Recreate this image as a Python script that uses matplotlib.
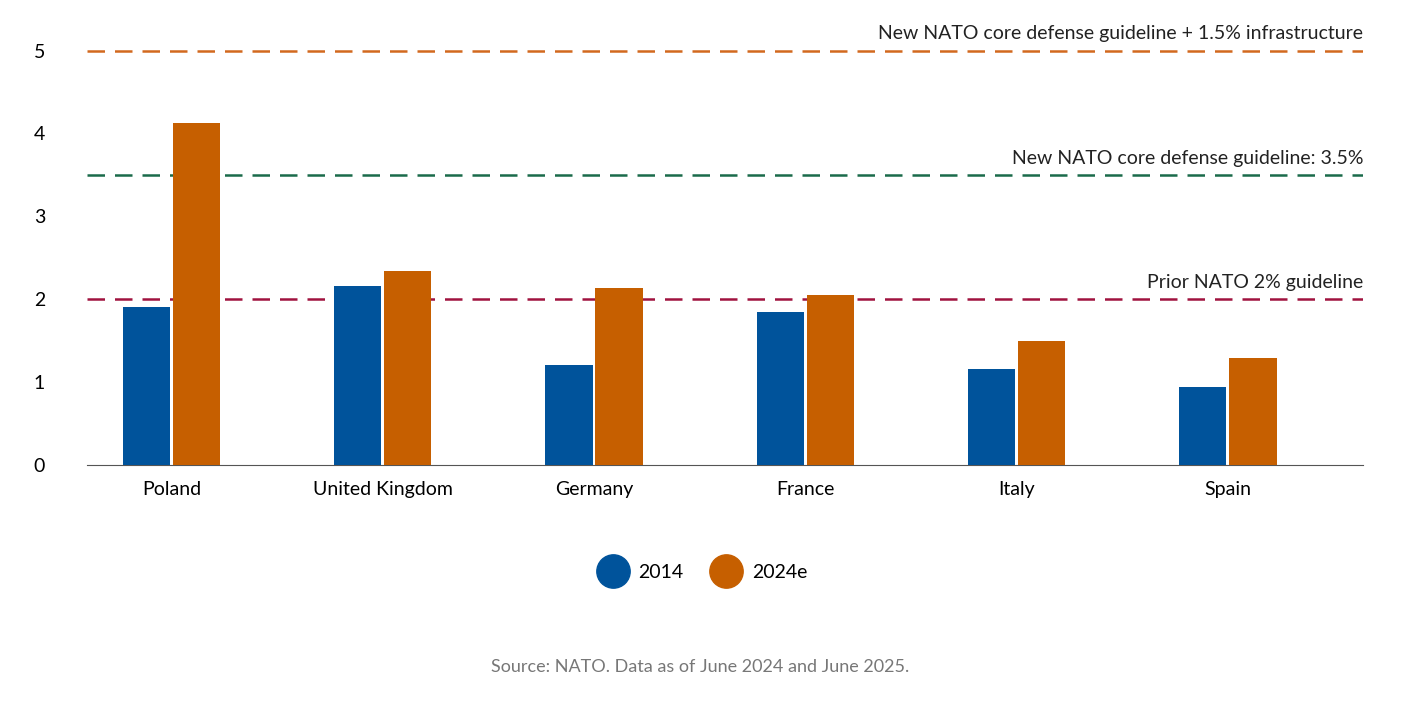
import matplotlib.pyplot as plt
import numpy as np

countries = ['Poland', 'United Kingdom', 'Germany', 'France', 'Italy', 'Spain']
vals_2014 = [1.90, 2.16, 1.20, 1.84, 1.16, 0.94]
vals_2024 = [4.12, 2.34, 2.13, 2.05, 1.49, 1.29]
guides = [2.0, 3.5, 5.0]
guide_labels = ['Prior NATO 2% guideline', 'New NATO core defense guideline: 3.5%',
                'New NATO core defense guideline + 1.5% infrastructure']

blue = '#00539B'
orange = '#C65F00'
guide_colors = ['#A0123F', '#1A6B4A', '#D2691E']

plt.rcParams['font.family'] = ['Lato', 'DejaVu Sans']
fig = plt.figure(figsize=(14.01, 7.16), dpi=100)
ax = fig.add_axes([0.062, 0.351, 0.911, 0.6015])

x = np.arange(len(countries))
w = 0.223
ax.bar(x - w / 2 - 0.007, vals_2014, w, color=blue, label='2014', zorder=3)
ax.bar(x + w / 2 + 0.007, vals_2024, w, color=orange, label='2024e', zorder=3)

for g, lab, c in zip(guides, guide_labels, guide_colors):
    ax.axhline(g, color=c, lw=1.8, dashes=(7, 4), zorder=2)
    ax.text(5.64, g + 0.1, lab, ha='right', va='bottom', fontsize=14, color='#222222')

ax.set_xlim(-0.40, 5.64)
ax.set_ylim(0, 5.2)
ax.set_xticks(x)
ax.set_xticklabels(countries, fontsize=14)
ax.set_yticks([0, 1, 2, 3, 4, 5])
ax.tick_params(axis='both', length=0, labelsize=14, pad=12)
ax.tick_params(axis='y', pad=30)
for s in ['top', 'right', 'left']:
    ax.spines[s].set_visible(False)
ax.spines['bottom'].set_color('#555555')

fig.legend(handles=[
    plt.Line2D([], [], marker='o', ls='', ms=24, color=blue, label='2014'),
    plt.Line2D([], [], marker='o', ls='', ms=24, color=orange, label='2024e')],
    loc='center', bbox_to_anchor=(0.5, 0.2), ncol=2, frameon=False,
    fontsize=14, handletextpad=0.3, columnspacing=1.2)

fig.text(0.5, 0.062, 'Source: NATO. Data as of June 2024 and June 2025.',
         ha='center', fontsize=13, color='#777777')
fig.savefig('out.png', dpi=100)
